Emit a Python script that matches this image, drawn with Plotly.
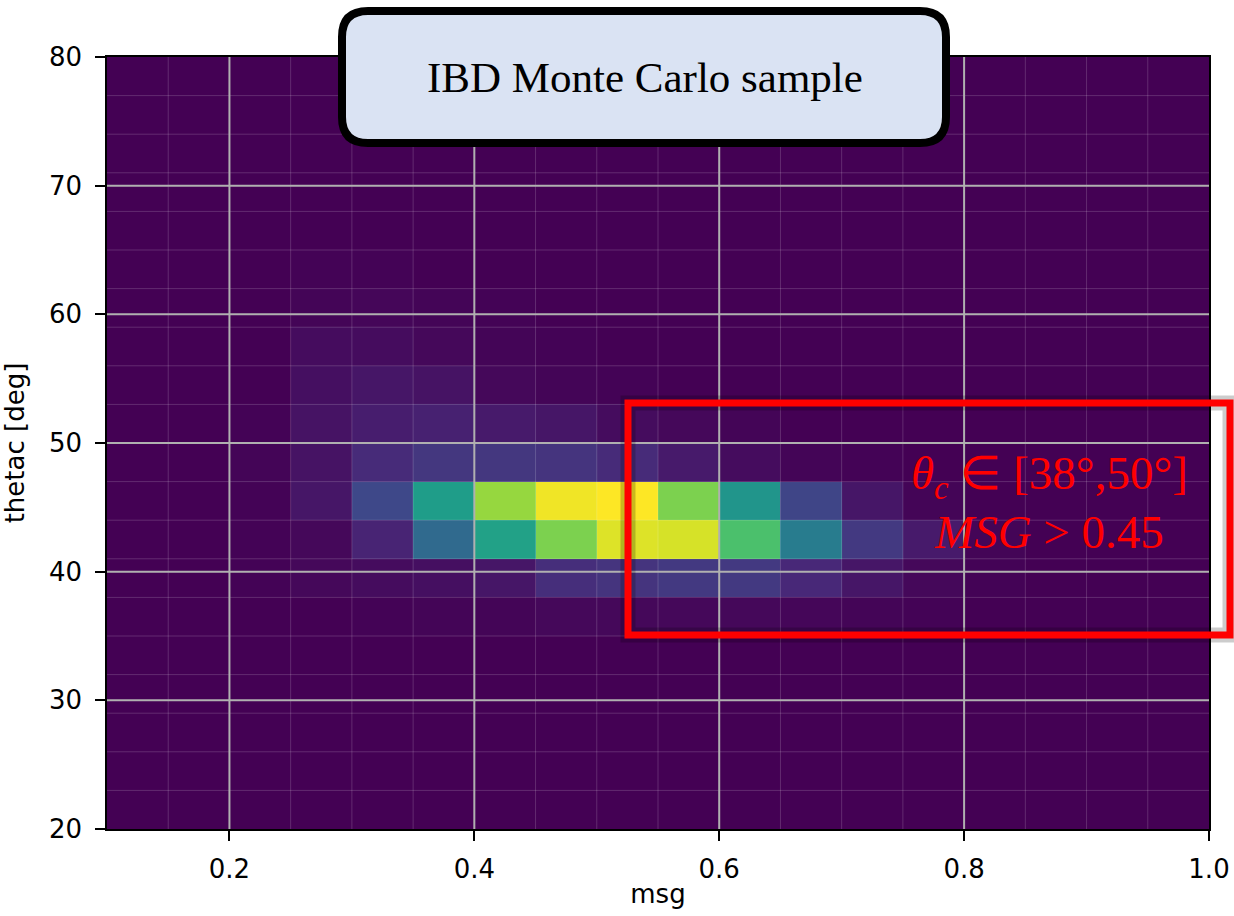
import plotly.graph_objects as go

# ---- data -------------------------------------------------------------
x_edges = [round(0.10 + 0.05 * i, 2) for i in range(19)]   # msg bin edges
y_edges = [20 + 3 * i for i in range(21)]                  # thetac bin edges

# relative counts (rows = thetac bins from 20 upward, cols = msg bins from 0.10)
row_20 = [0]*18
row_23 = [0]*18
row_26 = [0]*18
row_29 = [0]*18
row_32 = [0]*18
row_35 = [0, 0, 0, 0, 0.005, 0.01, 0.01, 0.02, 0.02, 0.02, 0.02, 0.015, 0.01, 0.005, 0, 0, 0, 0]
row_38 = [0, 0, 0.005, 0.02, 0.03, 0.04, 0.06, 0.13, 0.15, 0.17, 0.17, 0.11, 0.06, 0.02, 0.005, 0, 0, 0]
row_41 = [0, 0, 0.005, 0.02, 0.10, 0.34, 0.57, 0.80, 0.95, 0.94, 0.71, 0.42, 0.17, 0.07, 0.01, 0, 0, 0]
row_44 = [0, 0, 0.005, 0.06, 0.22, 0.55, 0.84, 0.98, 1.00, 0.80, 0.52, 0.21, 0.06, 0.01, 0, 0, 0, 0]
row_47 = [0, 0, 0.01, 0.05, 0.12, 0.16, 0.16, 0.15, 0.12, 0.07, 0.03, 0.01, 0.005, 0, 0, 0, 0, 0]
row_50 = [0, 0, 0.005, 0.05, 0.08, 0.09, 0.07, 0.06, 0.03, 0.02, 0.01, 0, 0, 0, 0, 0, 0, 0]
row_53 = [0, 0, 0, 0.04, 0.06, 0.05, 0.02, 0.01, 0.005, 0, 0, 0, 0, 0, 0, 0, 0, 0]
row_56 = [0, 0, 0, 0.03, 0.03, 0.02, 0.01, 0.005, 0, 0, 0, 0, 0, 0, 0, 0, 0, 0]
row_59 = [0, 0, 0, 0.01, 0.015, 0.01, 0.005, 0, 0, 0, 0, 0, 0, 0, 0, 0, 0, 0]
row_62 = [0, 0, 0, 0.005, 0.005, 0, 0, 0, 0, 0, 0, 0, 0, 0, 0, 0, 0, 0]
row_65 = [0]*18
row_68 = [0]*18
row_71 = [0]*18
row_74 = [0]*18
row_77 = [0]*18

z_counts = [row_20, row_23, row_26, row_29, row_32, row_35, row_38, row_41, row_44,
            row_47, row_50, row_53, row_56, row_59, row_62, row_65, row_68, row_71,
            row_74, row_77]

x_ticks = [0.2, 0.4, 0.6, 0.8, 1.0]
x_ticklabels = ["0.2", "0.4", "0.6", "0.8", "1.0"]
y_ticks = [20, 30, 40, 50, 60, 70, 80]

title_text = "IBD Monte Carlo sample"
cut_line1 = "<i>θ</i><sub><i>c</i></sub> ∈ [38°,50°]"
cut_line2 = "<i>MSG</i> > 0.45"

# ---- figure -----------------------------------------------------------
W, H = 1234, 916
ML, MR, MT, MB = 107, 25, 57, 87
PW, PH = W - ML - MR, H - MT - MB

def px(xp):  # pixel x -> paper
    return (xp - ML) / PW

def py(yp):  # pixel y -> paper
    return (H - MB - yp) / PH

fig = go.Figure()
fig.add_trace(go.Heatmap(
    x=x_edges, y=y_edges, z=z_counts,
    colorscale="Viridis", zmin=0, zmax=1, showscale=False,
    hoverinfo="skip",
))

shapes = []
# faint bin-edge lines above the heatmap
for xv in x_edges[1:-1]:
    shapes.append(dict(type="line", xref="x", yref="paper", x0=xv, x1=xv, y0=0, y1=1,
                       line=dict(color="rgba(255,255,255,0.17)", width=1), layer="above"))
for yv in y_edges[1:-1]:
    shapes.append(dict(type="line", xref="paper", yref="y", x0=0, x1=1, y0=yv, y1=yv,
                       line=dict(color="rgba(255,255,255,0.17)", width=1), layer="above"))
# major grid lines above the heatmap
for xv in x_ticks[:-1]:
    shapes.append(dict(type="line", xref="x", yref="paper", x0=xv, x1=xv, y0=0, y1=1,
                       line=dict(color="#b0b0b0", width=2), layer="above"))
for yv in y_ticks[1:-1]:
    shapes.append(dict(type="line", xref="paper", yref="y", x0=0, x1=1, y0=yv, y1=yv,
                       line=dict(color="#b0b0b0", width=2), layer="above"))

# rounded title box
bx0, bx1, by0, by1, r = 342, 946, 11, 143, 26
def P(x, y):
    return f"{px(x):.5f},{py(y):.5f}"
path = (f"M {P(bx0 + r, by0)} L {P(bx1 - r, by0)} Q {P(bx1, by0)} {P(bx1, by0 + r)} "
        f"L {P(bx1, by1 - r)} Q {P(bx1, by1)} {P(bx1 - r, by1)} "
        f"L {P(bx0 + r, by1)} Q {P(bx0, by1)} {P(bx0, by1 - r)} "
        f"L {P(bx0, by0 + r)} Q {P(bx0, by0)} {P(bx0 + r, by0)} Z")
shapes.append(dict(type="path", xref="paper", yref="paper", path=path,
                   fillcolor="#dae3f3", line=dict(color="black", width=8), layer="above"))

# red selection box with soft shadow
rx0, rx1, ry0, ry1 = 628, 1230, 403, 635
shapes.append(dict(type="rect", xref="paper", yref="paper",
                   x0=px(rx0), x1=px(rx1), y0=py(ry1), y1=py(ry0),
                   line=dict(color="rgba(0,0,0,0.20)", width=15), layer="above"))
shapes.append(dict(type="rect", xref="paper", yref="paper",
                   x0=px(rx0), x1=px(rx1), y0=py(ry1), y1=py(ry0),
                   line=dict(color="#ff0000", width=7), layer="above"))

annotations = [
    dict(text=title_text, xref="paper", yref="paper", x=px(645), y=py(78),
         showarrow=False, xanchor="center", yanchor="middle",
         font=dict(family="Liberation Serif", size=43, color="black")),
    dict(text=cut_line1, xref="paper", yref="paper", x=px(1049), y=py(477),
         showarrow=False, xanchor="center", yanchor="middle",
         font=dict(family="Liberation Serif", size=47, color="#ff0000")),
    dict(text=cut_line2, xref="paper", yref="paper", x=px(1049), y=py(532),
         showarrow=False, xanchor="center", yanchor="middle",
         font=dict(family="Liberation Serif", size=47, color="#ff0000")),
]

axis_common = dict(showgrid=False, zeroline=False, showline=True, mirror=True,
                   linecolor="black", linewidth=1.5, ticks="outside", ticklen=10,
                   tickwidth=1.5, tickcolor="black",
                   tickfont=dict(family="DejaVu Sans", size=26, color="black"))

fig.update_layout(
    width=W, height=H,
    margin=dict(l=ML, r=MR, t=MT, b=MB, autoexpand=False),
    paper_bgcolor="white", plot_bgcolor="#440154",
    shapes=shapes, annotations=annotations, showlegend=False,
    xaxis=dict(range=[0.1, 1.0], tickvals=x_ticks, ticktext=x_ticklabels,
               title=dict(text="msg", font=dict(family="DejaVu Sans", size=26, color="black"),
                          standoff=2),
               ticklabelstandoff=6, **axis_common),
    yaxis=dict(range=[20, 80], tickvals=y_ticks,
               title=dict(text="thetac [deg]", font=dict(family="DejaVu Sans", size=26, color="black"),
                          standoff=40),
               ticklabelstandoff=8, **axis_common),
)

fig.write_html(
    "out.html",
    config={"displayModeBar": False},
    post_script="document.body.style.margin='0';document.body.style.overflow='hidden';",
)
